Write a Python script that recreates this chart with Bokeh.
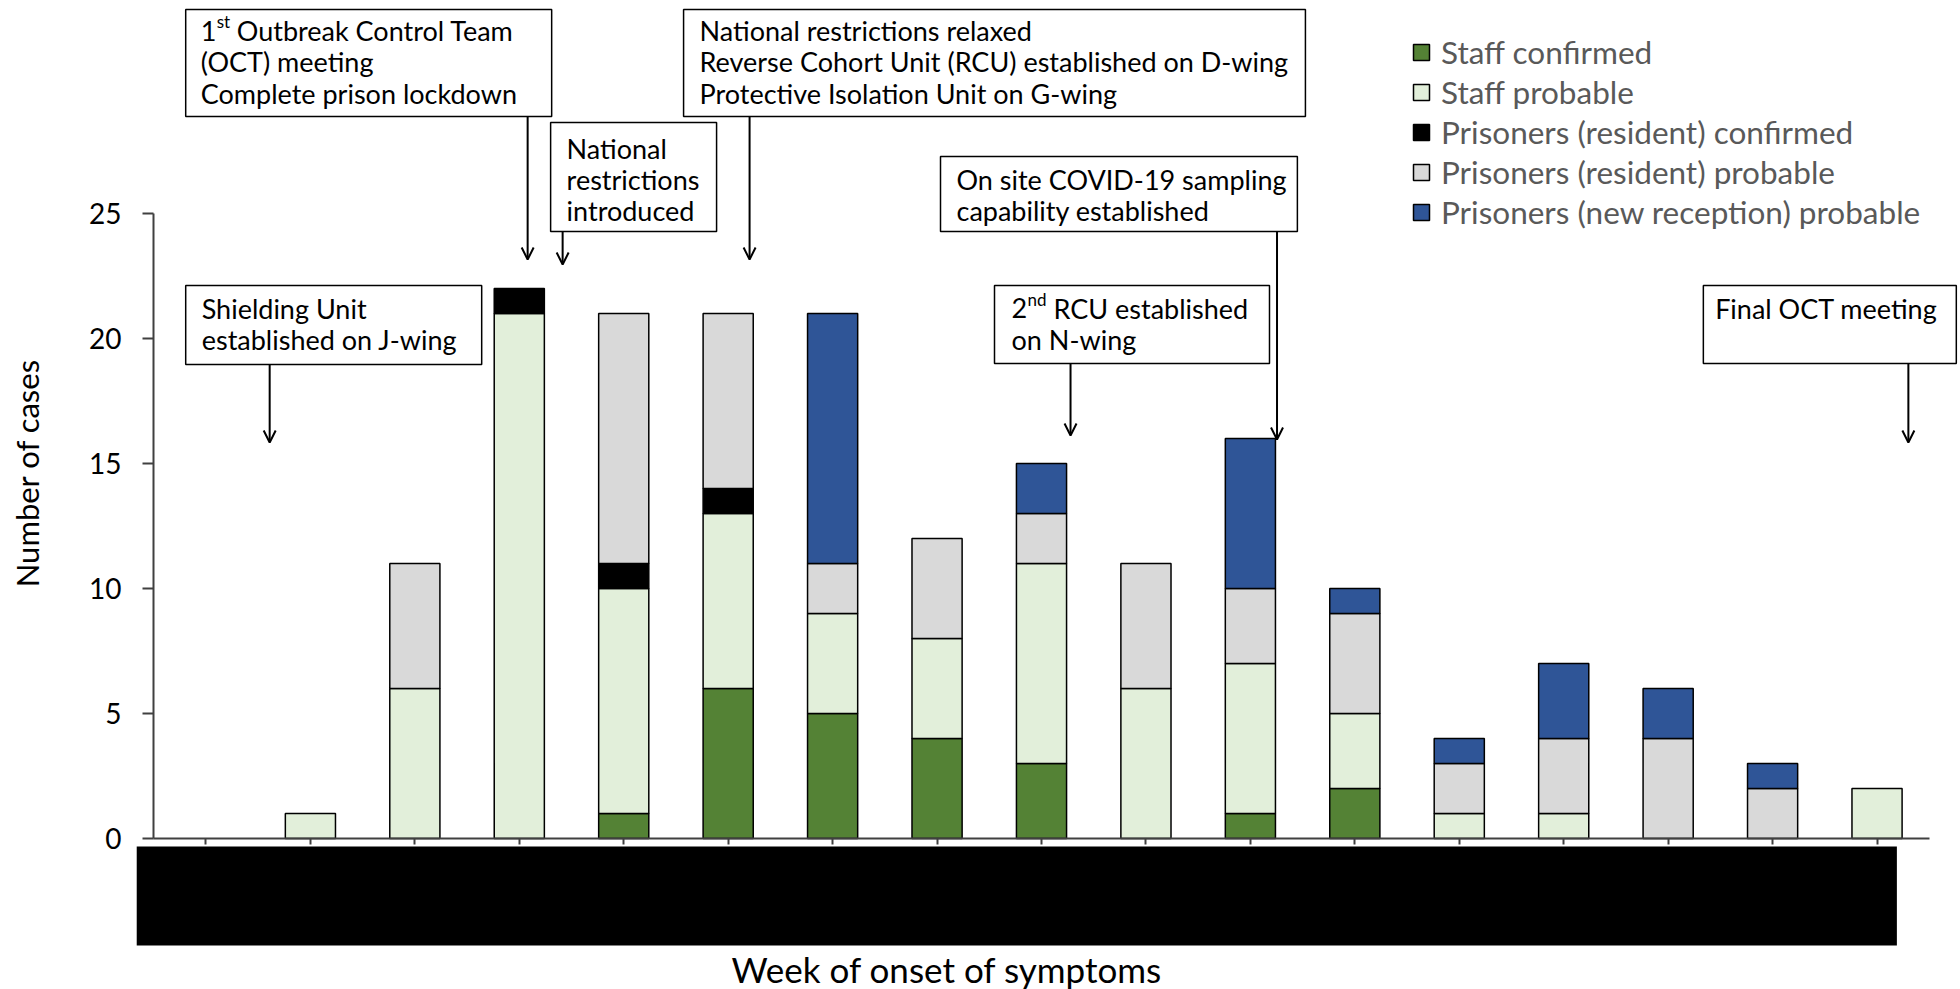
from bokeh.plotting import figure
from bokeh.models import (ColumnDataSource, FactorRange, Range1d, FixedTicker, Title,
                          Arrow, OpenHead, CDSView, BooleanFilter, LinearAxis)
from bokeh.embed import file_html
from bokeh.resources import INLINE
from bokeh.core.properties import value

# ---------------- data ----------------
weeks = ["Week 1", "Week 2", "Week 3", "Week 4", "Week 5", "Week 6", "Week 7", "Week 8",
         "Week 9", "Week 10", "Week 11", "Week 12", "Week 13", "Week 14", "Week 15",
         "Week 16", "Week 17"]
staff_confirmed = [0, 0, 0, 0, 1, 6, 5, 4, 3, 0, 1, 2, 0, 0, 0, 0, 0]
staff_probable = [0, 1, 6, 21, 9, 7, 4, 4, 8, 6, 6, 3, 1, 1, 0, 0, 2]
resident_confirmed = [0, 0, 0, 1, 1, 1, 0, 0, 0, 0, 0, 0, 0, 0, 0, 0, 0]
resident_probable = [0, 0, 5, 0, 10, 7, 2, 4, 2, 5, 3, 4, 2, 3, 4, 2, 0]
new_reception_probable = [0, 0, 0, 0, 0, 0, 10, 0, 2, 0, 6, 1, 1, 3, 2, 1, 0]

series_keys = ["staff_confirmed", "staff_probable", "resident_confirmed",
               "resident_probable", "new_reception_probable"]
series_values = [staff_confirmed, staff_probable, resident_confirmed,
                 resident_probable, new_reception_probable]
series_names = ["Staff confirmed", "Staff probable", "Prisoners (resident) confirmed",
                "Prisoners (resident) probable", "Prisoners (new reception) probable"]
series_colors = ["#548235", "#E2EFDA", "#000000", "#D9D9D9", "#2F5597"]

y_ticks = [0, 5, 10, 15, 20, 25]

# ---------------- annotations (layout, in data units) ----------------
ann_boxes = [  # left, right, bottom, top
    (0.306, 3.810, 28.88, 33.16),
    (3.800, 5.389, 24.28, 28.64),
    (5.073, 11.027, 28.88, 33.16),
    (7.533, 10.950, 24.28, 27.28),
    (8.050, 10.683, 19.00, 22.12),
    (0.306, 3.140, 18.96, 22.12),
    (14.837, 17.259, 19.00, 22.12),
]
ann_lines = [  # x, y, text
    (0.450, 31.08, "(OCT) meeting"),
    (0.450, 29.82, "Complete prison lockdown"),
    (3.953, 27.62, "National"),
    (3.953, 26.36, "restrictions"),
    (3.953, 25.12, "introduced"),
    (5.226, 32.32, "National restrictions relaxed"),
    (5.226, 31.08, "Reverse Cohort Unit (RCU) established on D-wing"),
    (5.226, 29.82, "Protective Isolation Unit on G-wing"),
    (7.686, 26.36, "On site COVID-19 sampling"),
    (7.686, 25.12, "capability established"),
    (8.213, 19.96, "on N-wing"),
    (0.459, 21.22, "Shielding Unit"),
    (0.459, 19.96, "established  on J-wing"),
    (14.95, 21.22, "Final OCT meeting"),
]
# lines that start with an ordinal with superscript suffix: x, y, number, suffix, rest
ann_ordinals = [
    (0.450, 32.32, "1", "st", "Outbreak Control Team"),
    (8.213, 21.22, "2", "nd", "RCU established"),
]
ordinal_rest_offsets = [36, 42]
ann_arrows = [  # x, y_start, y_end
    (3.580, 28.88, 23.16),
    (3.915, 24.28, 22.96),
    (5.705, 28.88, 23.16),
    (10.755, 24.28, 15.96),
    (8.778, 19.00, 16.12),
    (1.110, 18.96, 15.84),
    (16.80, 19.00, 15.84),
]

FONT = "Lato"
BOX_FONT_SIZE = "27px"
AX_COLOR = "#404040"

p = figure(width=1960, height=989,
           x_range=FactorRange(factors=weeks, range_padding=0.28, range_padding_units="absolute"),
           y_range=Range1d(-4.28, 33.52),
           output_backend="svg", toolbar_location=None, title=None,
           min_border_left=124, min_border_right=2, min_border_top=0, min_border_bottom=44,
           outline_line_color=None)
p.xgrid.visible = False
p.ygrid.visible = False

# stacked bars (bottoms/tops accumulated from the series)
data = dict(week=weeks)
cum = [0] * len(weeks)
for key, vals in zip(series_keys, series_values):
    data[key + "_bottom"] = list(cum)
    cum = [c + v for c, v in zip(cum, vals)]
    data[key + "_top"] = list(cum)
src = ColumnDataSource(data=data)
for key, vals, name, color in zip(series_keys, series_values, series_names, series_colors):
    view = CDSView(filter=BooleanFilter(booleans=[v > 0 for v in vals]))
    p.vbar(x="week", bottom=key + "_bottom", top=key + "_top", width=0.48, source=src,
           view=view, fill_color=color, line_color="#000000", line_width=1.5,
           legend_label=name)

# redaction box over the x tick labels
p.quad(left=[-0.163], right=[16.69], bottom=[-4.6], top=[-0.32],
       fill_color="#000000", line_color=None)

# annotation boxes
p.quad(left=[b[0] for b in ann_boxes], right=[b[1] for b in ann_boxes],
       bottom=[b[2] for b in ann_boxes], top=[b[3] for b in ann_boxes],
       fill_color="#FFFFFF", line_color="#000000", line_width=1.5)

tsrc = ColumnDataSource(data=dict(x=[a[0] for a in ann_lines], y=[a[1] for a in ann_lines],
                                  text=[a[2] for a in ann_lines]))
p.text(x="x", y="y", text="text", source=tsrc, text_font=value(FONT),
       text_font_size=BOX_FONT_SIZE, text_baseline="middle", text_align="left",
       text_color="#000000")

osrc = ColumnDataSource(data=dict(x=[a[0] for a in ann_ordinals], y=[a[1] for a in ann_ordinals],
                                  num=[a[2] for a in ann_ordinals], suf=[a[3] for a in ann_ordinals],
                                  rest=[a[4] for a in ann_ordinals], off=ordinal_rest_offsets))
p.text(x="x", y="y", text="num", source=osrc, text_font=value(FONT),
       text_font_size=BOX_FONT_SIZE, text_baseline="middle", text_align="left",
       text_color="#000000")
p.text(x="x", y="y", text="suf", source=osrc, text_font=value(FONT),
       text_font_size="17px", text_baseline="middle", text_align="left",
       text_color="#000000", x_offset=16, y_offset=-9)
p.text(x="x", y="y", text="rest", source=osrc, text_font=value(FONT),
       text_font_size=BOX_FONT_SIZE, text_baseline="middle", text_align="left",
       text_color="#000000", x_offset="off")

asrc = ColumnDataSource(data=dict(x0=[a[0] for a in ann_arrows], y0=[a[1] for a in ann_arrows],
                                  x1=[a[0] for a in ann_arrows], y1=[a[2] for a in ann_arrows]))
p.add_layout(Arrow(end=OpenHead(size=12, line_width=2, line_color="#000000"),
                   x_start="x0", y_start="y0", x_end="x1", y_end="y1", source=asrc,
                   line_width=2, line_color="#000000"))

# x axis drawn at y = 0, spanning the 17 weeks
p.xaxis.fixed_location = 0
p.xaxis.bounds = (0, len(weeks))
p.xaxis.major_label_text_color = None
p.xaxis.major_label_text_font_size = "0px"
p.xaxis.major_label_standoff = 0
p.xaxis.major_tick_out = 6
p.xaxis.major_tick_in = 0
p.xaxis.major_tick_line_width = 2
p.xaxis.major_tick_line_color = AX_COLOR
p.xaxis.minor_tick_line_color = None
p.xaxis.axis_line_width = 2
p.xaxis.axis_line_color = AX_COLOR

# y axis: tick labels and title in the left panel ...
ylab = p.yaxis[0]
ylab.ticker = FixedTicker(ticks=y_ticks)
ylab.bounds = (0, 25)
ylab.axis_line_color = None
ylab.major_tick_line_color = None
ylab.minor_tick_line_color = None
ylab.major_tick_out = 0
ylab.major_tick_in = 0
ylab.major_label_standoff = 3
ylab.major_label_text_font = FONT
ylab.major_label_text_font_size = "28px"
ylab.major_label_text_color = "#000000"
ylab.axis_label = "Number of cases"
ylab.axis_label_text_font = FONT
ylab.axis_label_text_font_size = "31px"
ylab.axis_label_text_font_style = "normal"
ylab.axis_label_text_color = "#000000"
ylab.axis_label_standoff = 40

# ... and the axis line with its ticks at the left edge of the first week
yline = LinearAxis(fixed_location=0, ticker=FixedTicker(ticks=y_ticks), bounds=(0, 25),
                   major_label_text_color=None, major_label_text_font_size="0px",
                   major_tick_out=11, major_tick_in=0, major_tick_line_width=2,
                   major_tick_line_color=AX_COLOR, minor_tick_line_color=None,
                   axis_line_width=2, axis_line_color=AX_COLOR)
p.add_layout(yline, "left")

p.add_layout(Title(text="Week of onset of symptoms", align="left", offset=607, standoff=0,
                   text_font=FONT, text_font_size="35px", text_font_style="normal",
                   text_color="#000000"), "below")

leg = p.legend[0]
leg.location = (1287, 713)
leg.orientation = "vertical"
leg.glyph_width = 20
leg.glyph_height = 20
leg.label_height = 40
leg.spacing = 0
leg.padding = 0
leg.margin = 0
leg.label_standoff = 10
leg.label_text_font = FONT
leg.label_text_font_size = "31.5px"
leg.label_text_color = "#595959"
leg.border_line_color = None
leg.background_fill_alpha = 0

open("out.html", "w").write(file_html(p, INLINE))
